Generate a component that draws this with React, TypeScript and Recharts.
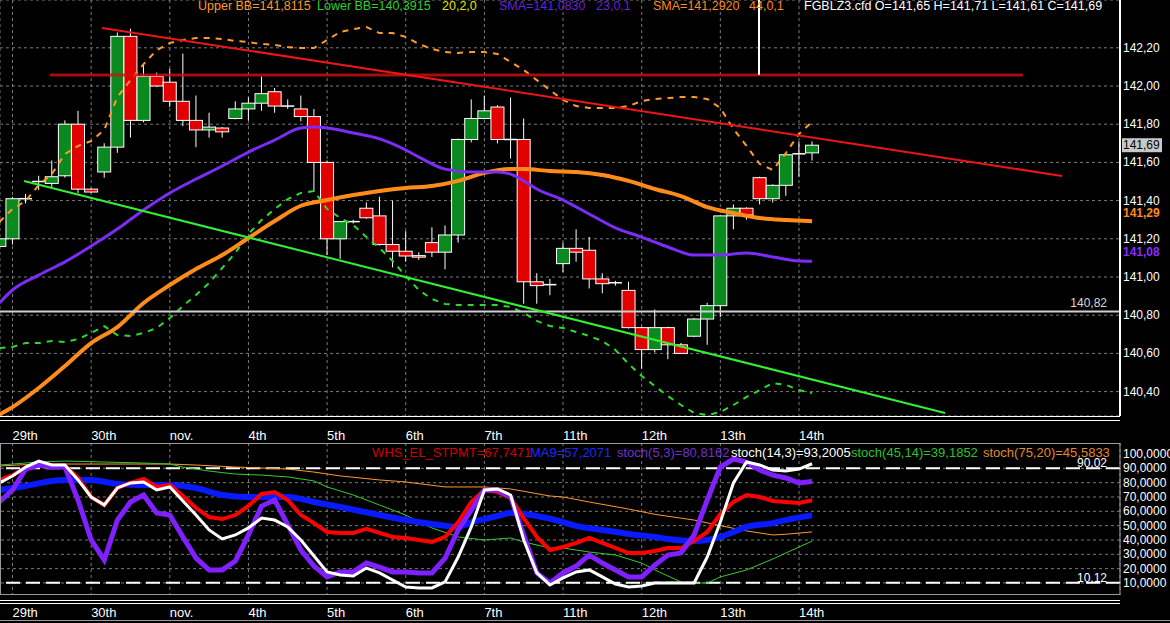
import React from 'react';
import { ComposedChart, Line, Bar, XAxis, YAxis, CartesianGrid, ReferenceLine } from 'recharts';

const FONT = '"Liberation Sans", Arial, sans-serif';

// one candle per 4 hours, a day tick every 6 candles
const dayTicks = [1, 7, 13, 19, 25, 31, 37, 43, 49, 55, 61];
const dayLabels = ['29th', '30th', 'nov.', '4th', '5th', '6th', '7th', '11th', '12th', '13th', '14th'];

const opens = [
  141.16, 141.2, 141.41, 141.5, 141.49, 141.53, 141.8, 141.46, 141.55, 141.68,
  142.26, 141.82, 142.05, 142.02, 141.92, 141.82, 141.77, 141.78, 141.83, 141.88,
  141.91, 141.97, 141.895, 141.88, 141.84, 141.6, 141.2, 141.29, 141.36, 141.32,
  141.17, 141.135, 141.112, 141.18, 141.13, 141.22, 141.72, 141.83, 141.89, 141.72,
  141.72, 140.975, 140.96, 141.07, 141.15, 141.14, 140.99, 140.97, 140.93, 140.735,
  140.62, 140.735, 140.645, 140.69, 140.78, 140.85, 141.32, 141.36, 141.52, 141.41,
  141.48, 141.645, 141.65,
];
const highs = [
  141.21, 141.42, 141.435, 141.53, 141.61, 141.82, 141.87, 141.465, 141.7, 142.28,
  142.3, 142.11, 142.07, 142.09, 142.17, 141.95, 141.86, 141.785, 141.92, 141.94,
  142.05, 141.99, 141.93, 141.95, 141.88, 141.61, 141.29, 141.3, 141.39, 141.42,
  141.4, 141.24, 141.13, 141.26, 141.27, 141.725, 141.93, 141.95, 141.9, 141.94,
  141.83, 141.02, 140.99, 141.18, 141.25, 141.21, 141.02, 140.98, 140.975, 140.74,
  140.83, 140.74, 140.655, 140.785, 140.865, 141.325, 141.38, 141.365, 141.525, 141.485,
  141.645, 141.71, 141.71,
];
const lows = [
  141.15, 141.17, 141.385, 141.455, 141.465, 141.52, 141.44, 141.44, 141.52, 141.65,
  141.73, 141.81, 141.995, 141.89, 141.79, 141.68, 141.73, 141.73, 141.825, 141.82,
  141.87, 141.86, 141.88, 141.815, 141.445, 141.115, 141.095, 141.28, 141.305, 141.165,
  141.05, 141.08, 141.09, 141.105, 141.04, 141.18, 141.705, 141.825, 141.7, 141.62,
  140.86, 140.86, 140.905, 141.025, 141.08, 140.94, 140.915, 140.955, 140.73, 140.52,
  140.605, 140.57, 140.598, 140.685, 140.645, 140.79, 141.25, 141.3, 141.38, 141.39,
  141.425, 141.525, 141.61,
];
const closes = [
  141.2, 141.41, 141.405, 141.5, 141.525, 141.8, 141.46, 141.445, 141.68, 142.26,
  141.82, 142.05, 142.0, 141.92, 141.82, 141.77, 141.785, 141.76, 141.88, 141.91,
  141.96, 141.895, 141.895, 141.84, 141.6, 141.2, 141.29, 141.29, 141.31, 141.17,
  141.135, 141.11, 141.104, 141.13, 141.22, 141.72, 141.83, 141.87, 141.72, 141.72,
  140.975, 140.955, 140.96, 141.15, 141.13, 140.99, 140.965, 140.97, 140.735, 140.62,
  140.735, 140.645, 140.6, 140.78, 140.85, 141.32, 141.36, 141.325, 141.41, 141.48,
  141.64, 141.645, 141.69,
];

const upperBB = [
  141.288, 141.356, 141.398, 141.482, 141.539, 141.644, 141.686, 141.712, 141.77, 141.942,
  142.031, 142.115, 142.188, 142.225, 142.241, 142.251, 142.251, 142.246, 142.236, 142.23,
  142.22, 142.215, 142.204, 142.199, 142.199, 142.241, 142.283, 142.298, 142.309, 142.277,
  142.277, 142.257, 142.22, 142.194, 142.178, 142.173, 142.178, 142.178, 142.168, 142.126,
  142.084, 142.031, 141.979, 141.927, 141.895, 141.885, 141.885, 141.885, 141.895, 141.921,
  141.932, 141.937, 141.942, 141.942, 141.932, 141.885, 141.775, 141.686, 141.592, 141.56,
  141.649, 141.749, 141.812,
];
const lowerBB = [
  140.628, 140.634, 140.654, 140.654, 140.665, 140.66, 140.675, 140.707, 140.743, 140.696,
  140.691, 140.707, 140.733, 140.785, 140.848, 140.906, 140.969, 141.047, 141.126, 141.225,
  141.298, 141.356, 141.408, 141.44, 141.45, 141.356, 141.309, 141.272, 141.209, 141.152,
  141.084, 141.005, 140.932, 140.885, 140.859, 140.853, 140.853, 140.853, 140.853, 140.843,
  140.812, 140.77, 140.743, 140.733, 140.712, 140.691, 140.665, 140.618, 140.545, 140.482,
  140.429, 140.377, 140.33, 140.288, 140.277, 140.293, 140.33, 140.372, 140.408, 140.445,
  140.435, 140.408, 140.392,
];

// [candle index, value]
const sma23: [number, number][] = [
  [0, 140.864], [1, 140.932], [3, 141.01], [5, 141.079], [7, 141.162], [9, 141.251], [11, 141.351],
  [13, 141.44], [15, 141.513], [17, 141.581], [19, 141.654], [21, 141.717], [23, 141.78], [24, 141.785],
  [25, 141.78], [27, 141.754], [29, 141.723], [31, 141.665], [32, 141.628], [34, 141.565], [36, 141.55],
  [38, 141.55], [39, 141.539], [40, 141.503], [41, 141.461], [43, 141.403], [45, 141.33], [47, 141.257],
  [49, 141.209], [51, 141.157], [53, 141.115], [55, 141.115], [57, 141.126], [59, 141.105], [61, 141.084],
  [62, 141.083],
];
const sma44: [number, number][] = [
  [0, 140.28], [1, 140.319], [3, 140.419], [5, 140.534], [7, 140.654], [9, 140.738], [11, 140.864],
  [13, 140.958], [15, 141.042], [17, 141.115], [19, 141.204], [21, 141.293], [23, 141.373], [25, 141.403],
  [27, 141.429], [29, 141.45], [31, 141.466], [33, 141.476], [35, 141.503], [37, 141.545], [39, 141.565],
  [40, 141.565], [42, 141.555], [44, 141.55], [46, 141.534], [48, 141.503], [50, 141.461], [52, 141.424],
  [54, 141.366], [56, 141.335], [58, 141.309], [60, 141.298], [62, 141.292],
];

const whs = [
  81.9, 85.3, 90.2, 93.0, 92.3, 91.6, 83.3, 70.0, 64.4, 76.3, 79.8, 82.6, 77.0, 78.4, 70.7, 62.3,
  56.0, 54.6, 57.4, 63.7, 72.1, 73.5, 67.9, 57.4, 51.8, 45.6, 44.9, 44.9, 47.7, 44.9, 42.1, 41.4,
  40.0, 38.6, 42.1, 52.5, 66.5, 74.9, 73.5, 69.3, 55.3, 42.1, 33.0, 35.1, 37.9, 41.4, 37.9, 34.4,
  30.9, 30.9, 32.3, 34.4, 34.4, 39.3, 45.6, 58.1, 66.5, 71.4, 70.0, 67.2, 66.5, 65.8, 67.7,
];
const stoch5 = [
  66.5, 74.9, 89.5, 92.3, 90.9, 90.9, 67.9, 40.0, 26.0, 53.9, 66.5, 71.4, 58.8, 57.4, 42.1, 27.4,
  19.1, 19.1, 25.3, 43.5, 63.7, 67.9, 50.5, 33.0, 21.8, 14.2, 17.7, 17.7, 23.9, 21.1, 17.7, 17.7,
  17.0, 17.0, 27.4, 47.0, 60.9, 74.9, 74.9, 70.0, 43.5, 17.0, 10.0, 17.0, 21.8, 29.5, 23.9, 19.1,
  14.2, 14.2, 22.5, 29.5, 30.9, 43.5, 67.9, 90.9, 96.5, 94.4, 88.8, 85.3, 83.3, 79.8, 80.8,
];
const stoch14 = [
  79.8, 84.6, 90.9, 95.1, 92.3, 92.3, 81.9, 70.0, 64.4, 76.3, 79.8, 80.5, 74.9, 77.0, 67.2, 57.4,
  47.0, 40.7, 43.5, 48.4, 55.3, 53.9, 49.1, 40.0, 28.8, 17.7, 15.6, 14.9, 20.4, 17.0, 12.1, 7.2,
  6.5, 6.5, 10.7, 28.1, 49.1, 74.9, 75.6, 71.4, 40.0, 17.0, 8.6, 13.5, 17.7, 19.1, 14.2, 9.3,
  7.2, 7.9, 10.0, 10.0, 10.0, 10.0, 28.1, 52.5, 79.8, 94.4, 92.3, 88.8, 88.1, 89.5, 93.2,
];
const ma9: [number, number][] = [
  [0, 74.9], [2, 77.7], [4, 81.2], [5, 81.9], [7, 81.9], [9, 79.1], [11, 78.4], [13, 78.4], [15, 76.3],
  [17, 71.4], [19, 70.0], [21, 70.0], [22, 70.0], [24, 66.5], [26, 63.0], [29, 57.4], [31, 53.9],
  [33, 51.2], [35, 49.1], [36, 52.5], [37, 54.6], [38, 56.7], [39, 58.8], [40, 58.1], [41, 56.7],
  [43, 52.5], [44, 49.8], [46, 47.0], [48, 44.2], [50, 42.1], [51, 40.7], [53, 39.3], [54, 40.0],
  [55, 42.1], [56, 45.6], [57, 49.1], [59, 51.8], [60, 53.9], [62, 57.2],
];
const stoch45: [number, number][] = [
  [0, 92.3], [2, 93.7], [3, 94.4], [5, 95.1], [8, 94.4], [11, 93.7], [13, 93.0], [14, 90.9], [16, 88.1],
  [18, 86.0], [20, 85.3], [22, 84.0], [24, 81.2], [25, 77.0], [27, 71.4], [29, 64.4], [31, 57.4],
  [32, 52.5], [33, 48.4], [35, 42.1], [37, 40.0], [38, 40.7], [39, 41.4], [40, 38.6], [42, 34.4],
  [43, 34.4], [45, 31.6], [47, 29.5], [49, 23.9], [50, 19.1], [51, 14.9], [52, 10.7], [53, 10.0],
  [54, 10.0], [55, 14.2], [57, 19.1], [59, 26.7], [61, 35.1], [62, 39.2],
];
const stoch75: [number, number][] = [
  [0, 91.6], [2, 92.6], [5, 93.0], [9, 93.0], [13, 93.0], [15, 92.3], [18, 90.9], [20, 90.2], [22, 89.5],
  [24, 87.4], [26, 84.7], [29, 81.9], [31, 80.5], [34, 77.0], [37, 77.0], [39, 75.6], [42, 70.7],
  [43, 70.0], [45, 66.5], [48, 61.6], [50, 57.9], [53, 53.9], [55, 50.0], [57, 46.3], [59, 43.5],
  [60, 44.0], [62, 45.6],
];

const priceTicks = [140.4, 140.6, 140.8, 141.0, 141.2, 141.4, 141.6, 141.8, 142.0, 142.2];
const stochTicks = [10, 20, 30, 40, 50, 60, 70, 80, 90, 100];
const stochGrid = [10, 20, 30, 40, 50, 60, 70, 80, 90];
const stochBands = [90.02, 10.12];

const resistanceLine = [{ x: 7.83, y: 142.304 }, { x: 81.07, y: 141.529 }];
const supportLine = [{ x: 1.88, y: 141.503 }, { x: 72.14, y: 140.288 }];
const levelLine = [{ x: 3.86, y: 142.058 }, { x: 78.09, y: 142.058 }];
const cursorLine = [{ x: 57.95, y: 142.45 }, { x: 57.95, y: 142.058 }];
const lastPrice = 141.69;
const markLevel = 140.82;

const topLegend: [number, string, string][] = [
  [198, '#ff9a2e', 'Upper BB=141,8115'],
  [317, '#2fd02f', 'Lower BB=140,3915'],
  [442, '#e4e400', '20,2,0'],
  [499, '#6a22d8', 'SMA=141,0830'],
  [596, '#6a22d8', '23,0,1'],
  [653, '#ff8c1a', 'SMA=141,2920'],
  [749, '#ff8c1a', '44,0,1'],
  [804, '#ffffff', 'FGBLZ3.cfd O=141,65 H=141,71 L=141,61 C=141,69'],
];
const stochLegend: [number, string, string][] = [
  [372, '#d00000', 'WHS_EL_STPMT=67,7471'],
  [530, '#1a2aff', 'MA9=57,2071'],
  [617, '#7030d0', 'stoch(5,3)=80,8162'],
  [731, '#ffffff', 'stoch(14,3)=93,2005'],
  [851, '#30c030', 'stoch(45,14)=39,1852'],
  [983, '#e08a30', 'stoch(75,20)=45,5833'],
];

const n = opens.length;
const spread = (pts: [number, number][]) => {
  const out: (number | null)[] = new Array(n).fill(null);
  pts.forEach(([i, v]) => { out[i] = v; });
  return out;
};
const s23 = spread(sma23);
const s44 = spread(sma44);
const m9 = spread(ma9);
const s45 = spread(stoch45);
const s75 = spread(stoch75);

const priceRows = opens.map((o, i) => ({
  i,
  range: [lows[i], highs[i]],
  open: o,
  high: highs[i],
  low: lows[i],
  close: closes[i],
  upper: upperBB[i],
  lower: lowerBB[i],
  sma23: s23[i],
  sma44: s44[i],
}));
const stochRows = whs.map((w, i) => ({
  i,
  whs: w,
  ma9: m9[i],
  stoch5: stoch5[i],
  stoch14: stoch14[i],
  stoch45: s45[i],
  stoch75: s75[i],
}));

const comma = (v: number, d: number) => v.toFixed(d).replace('.', ',');
const X_DOMAIN: [number, number] = [0.046, 85.49];

const Candle = (props: any) => {
  const { x, y, width, height, payload } = props;
  if (x == null || y == null) return null;
  const top = Math.min(y, y + height);
  const h = Math.abs(height);
  const { open, close, high, low } = payload;
  const toY = (p: number) => top + ((high - p) / (high - low)) * h;
  const cx = x + width / 2;
  const bodyTop = toY(Math.max(open, close));
  const bodyBot = toY(Math.min(open, close));
  const doji = Math.abs(open - close) < 0.006;
  return (
    <g>
      <line x1={cx} x2={cx} y1={toY(high)} y2={toY(low)} stroke="#fff" strokeWidth={1} />
      {doji ? (
        <line x1={cx - 6.5} x2={cx + 6.5} y1={bodyTop} y2={bodyTop} stroke="#fff" strokeWidth={1.5} />
      ) : (
        <rect
          x={cx - 6.5}
          y={bodyTop}
          width={13}
          height={Math.max(bodyBot - bodyTop, 1)}
          fill={close > open ? '#0a8a1e' : '#e00000'}
          stroke="#fff"
          strokeWidth={1}
        />
      )}
    </g>
  );
};

const DayTick = (dy: number) => (props: any) => {
  const { x, y, payload } = props;
  const k = dayTicks.indexOf(payload.value);
  return (
    <text x={x} y={y + dy} fill="#fff" fontSize={13} fontFamily={FONT} dominantBaseline="central">
      {dayLabels[k]}
    </text>
  );
};

const PriceTick = (props: any) => {
  const { x, y, payload } = props;
  return (
    <text x={x} y={y} fill="#fff" fontSize={12} fontFamily={FONT} dominantBaseline="central">
      {comma(payload.value, 2)}
    </text>
  );
};

const StochTick = (props: any) => {
  const { x, y, payload } = props;
  return (
    <text x={x} y={y} fill="#fff" fontSize={12} fontFamily={FONT} dominantBaseline="central">
      {comma(payload.value, 4)}
    </text>
  );
};

const axisTag = (text: string, color: string, dy: number, box?: boolean) => (props: any) => {
  const { viewBox } = props;
  const x = viewBox.x + viewBox.width + 2;
  const y = viewBox.y + dy;
  return (
    <g>
      {box && <rect x={x} y={y - 7} width={40} height={14} fill="#c8c8c8" />}
      <text
        x={x + 1}
        y={y}
        fill={color}
        fontSize={12}
        fontWeight={box ? 'normal' : 'bold'}
        fontFamily={FONT}
        dominantBaseline="central"
      >
        {text}
      </text>
    </g>
  );
};

const innerTag = (text: string, color: string, dy: number) => (props: any) => {
  const { viewBox } = props;
  return (
    <text
      x={viewBox.x + viewBox.width - 13}
      y={viewBox.y + dy}
      fill={color}
      fontSize={12}
      fontFamily={FONT}
      textAnchor="end"
      dominantBaseline="central"
    >
      {text}
    </text>
  );
};

const hLine = (top: number, color: string, width = 1120): React.CSSProperties => ({
  position: 'absolute',
  left: 0,
  top,
  width,
  height: 1,
  background: color,
});

export default function App() {
  return (
    <div style={{ position: 'relative', width: 1170, height: 623, background: '#000', overflow: 'hidden', fontFamily: FONT }}>
      <style>{'body{margin:0;background:#000}'}</style>

      <div style={{ position: 'absolute', left: 0, top: 0 }}>
        <ComposedChart width={1170} height={443} data={priceRows} margin={{ top: 0, right: 0, bottom: 0, left: 0 }}>
          <CartesianGrid stroke="#7a7a7a" strokeDasharray="3 3" />
          <XAxis
            dataKey="i"
            type="number"
            domain={X_DOMAIN}
            ticks={dayTicks}
            interval={0}
            allowDataOverflow
            height={27}
            axisLine={false}
            tickLine={false}
            tickSize={0}
            tickMargin={0}
            tick={DayTick(19)}
          />
          <YAxis
            orientation="right"
            type="number"
            domain={[140.2723, 142.4503]}
            ticks={priceTicks}
            interval={0}
            allowDataOverflow
            width={50}
            axisLine={{ stroke: '#fff', strokeWidth: 2 }}
            tickLine={false}
            tickSize={0}
            tickMargin={3}
            tick={PriceTick}
          />
          <Bar dataKey="range" barSize={13} shape={Candle} isAnimationActive={false} />
          <Line dataKey="upper" type="linear" stroke="#ff9a2e" strokeWidth={2} strokeDasharray="6 6" dot={false} activeDot={false} isAnimationActive={false} />
          <Line dataKey="lower" type="linear" stroke="#2fd82f" strokeWidth={2} strokeDasharray="6 6" dot={false} activeDot={false} isAnimationActive={false} />
          <Line dataKey="sma44" type="monotone" connectNulls stroke="#ff8c1a" strokeWidth={4} dot={false} activeDot={false} isAnimationActive={false} />
          <Line dataKey="sma23" type="monotone" connectNulls stroke="#7b2cf5" strokeWidth={3} dot={false} activeDot={false} isAnimationActive={false} />
          <ReferenceLine y={markLevel} stroke="#cfcfcf" strokeWidth={2} label={innerTag(comma(markLevel, 2), '#d8d8d8', -8)} />
          <ReferenceLine segment={levelLine} stroke="#d01010" strokeOpacity={0.8} strokeWidth={3} ifOverflow="hidden" />
          <ReferenceLine segment={resistanceLine} stroke="#f01414" strokeWidth={2} ifOverflow="hidden" />
          <ReferenceLine segment={supportLine} stroke="#33ee33" strokeWidth={2} ifOverflow="hidden" />
          <ReferenceLine segment={cursorLine} stroke="#fff" strokeWidth={2} ifOverflow="hidden" />
          <ReferenceLine y={lastPrice} stroke="none" label={axisTag(comma(lastPrice, 2), '#000', 0, true)} />
          <ReferenceLine y={sma44[sma44.length - 1][1]} stroke="none" label={axisTag(comma(sma44[sma44.length - 1][1], 2), '#ff8c1a', -8)} />
          <ReferenceLine y={sma23[sma23.length - 1][1]} stroke="none" label={axisTag(comma(sma23[sma23.length - 1][1], 2), '#8a2cff', -9)} />
        </ComposedChart>
      </div>

      <div style={hLine(416, '#fff')} />
      <div style={hLine(420, '#fff')} />

      <div style={{ position: 'absolute', left: 0, top: 443 }}>
        <ComposedChart width={1170} height={180} data={stochRows} margin={{ top: 0, right: 0, bottom: 0, left: 0 }}>
          <CartesianGrid stroke="#7a7a7a" strokeDasharray="3 3" horizontal={false} />
          <XAxis
            dataKey="i"
            type="number"
            domain={X_DOMAIN}
            ticks={dayTicks}
            interval={0}
            allowDataOverflow
            height={28}
            axisLine={false}
            tickLine={false}
            tickSize={0}
            tickMargin={0}
            tick={DayTick(17)}
          />
          <YAxis
            orientation="right"
            type="number"
            domain={[1.6, 107.68]}
            ticks={stochTicks}
            interval={0}
            allowDataOverflow
            width={50}
            axisLine={{ stroke: '#a0a0a0' }}
            tickLine={false}
            tickSize={0}
            tickMargin={3}
            tick={StochTick}
          />
          {stochGrid.map((v) => (
            <ReferenceLine key={v} y={v} stroke="#7a7a7a" strokeDasharray="3 3" />
          ))}
          {stochBands.map((v) => (
            <ReferenceLine key={v} y={v} stroke="#fff" strokeWidth={2} strokeDasharray="14 6" label={innerTag(comma(v, 2), '#fff', -5)} />
          ))}
          <Line dataKey="stoch75" type="linear" connectNulls stroke="#ff9933" strokeWidth={1} dot={false} activeDot={false} isAnimationActive={false} />
          <Line dataKey="stoch45" type="linear" connectNulls stroke="#33cc33" strokeWidth={1} dot={false} activeDot={false} isAnimationActive={false} />
          <Line dataKey="ma9" type="monotone" connectNulls stroke="#0a1aff" strokeWidth={6} dot={false} activeDot={false} isAnimationActive={false} />
          <Line dataKey="whs" type="linear" stroke="#ff0000" strokeWidth={4} dot={false} activeDot={false} isAnimationActive={false} />
          <Line dataKey="stoch5" type="linear" stroke="#8020ff" strokeWidth={5} dot={false} activeDot={false} isAnimationActive={false} />
          <Line dataKey="stoch14" type="linear" stroke="#ffffff" strokeWidth={3} dot={false} activeDot={false} isAnimationActive={false} />
        </ComposedChart>
      </div>

      <div style={{ position: 'absolute', left: 0, top: 443, width: 1120, height: 152, border: '1px solid #9a9a9a', borderRight: 'none', boxSizing: 'border-box', pointerEvents: 'none' }} />
      <div style={hLine(600, '#fff')} />
      <div style={hLine(603, '#fff')} />
      <div style={hLine(620, '#9a9a9a', 1170)} />

      {topLegend.map(([left, color, text]) => (
        <span key={text + left} style={{ position: 'absolute', left, top: -1, color, fontSize: 12.5, lineHeight: '14px', whiteSpace: 'nowrap' }}>
          {text}
        </span>
      ))}
      {stochLegend.map(([left, color, text]) => (
        <span key={text} style={{ position: 'absolute', left, top: 445, color, fontSize: 13, lineHeight: '16px', whiteSpace: 'nowrap' }}>
          {text}
        </span>
      ))}
    </div>
  );
}
